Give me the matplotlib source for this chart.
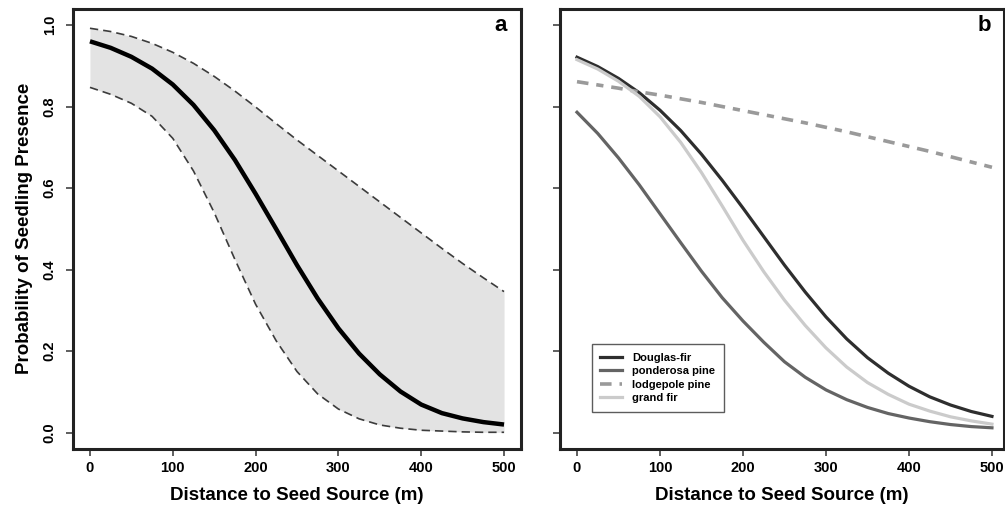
import matplotlib.pyplot as plt
import numpy as np

# distance to seed source (m)
dist = [0, 25, 50, 75, 100, 125, 150, 175, 200, 225, 250,
        275, 300, 325, 350, 375, 400, 425, 450, 475, 500]

# panel a: fitted probability with confidence band
mean_a = [0.960, 0.944, 0.922, 0.893, 0.854, 0.804, 0.742, 0.669, 0.586, 0.499, 0.411,
          0.329, 0.256, 0.194, 0.143, 0.101, 0.069, 0.048, 0.035, 0.026, 0.020]
upper_a = [0.992, 0.984, 0.972, 0.955, 0.933, 0.906, 0.874, 0.838, 0.799, 0.758, 0.718,
           0.680, 0.642, 0.604, 0.566, 0.528, 0.490, 0.452, 0.415, 0.380, 0.346]
lower_a = [0.847, 0.830, 0.808, 0.776, 0.722, 0.642, 0.540, 0.425, 0.315, 0.225, 0.150,
           0.095, 0.058, 0.034, 0.019, 0.011, 0.006, 0.004, 0.002, 0.001, 0.001]

# panel b: species curves
douglas = [0.921, 0.898, 0.869, 0.834, 0.791, 0.741, 0.683, 0.619, 0.551, 0.481, 0.411,
           0.345, 0.284, 0.230, 0.184, 0.146, 0.114, 0.088, 0.068, 0.052, 0.040]
ponderosa = [0.786, 0.734, 0.674, 0.608, 0.537, 0.466, 0.396, 0.331, 0.274, 0.222, 0.174,
             0.136, 0.105, 0.081, 0.062, 0.047, 0.036, 0.027, 0.020, 0.015, 0.012]
lodgepole = [0.861, 0.853, 0.845, 0.836, 0.828, 0.819, 0.810, 0.800, 0.790, 0.780, 0.770,
             0.760, 0.749, 0.738, 0.726, 0.714, 0.702, 0.690, 0.677, 0.664, 0.651]
grand = [0.915, 0.892, 0.862, 0.825, 0.775, 0.712, 0.638, 0.556, 0.472, 0.395, 0.325,
         0.263, 0.208, 0.161, 0.123, 0.094, 0.070, 0.053, 0.039, 0.029, 0.021]

xticks = [0, 100, 200, 300, 400, 500]
yticks = [0.0, 0.2, 0.4, 0.6, 0.8, 1.0]

plt.rcParams['font.family'] = ['Liberation Sans', 'DejaVu Sans']
plt.rcParams['font.weight'] = 'bold'

W, H = 1005, 507
fig = plt.figure(figsize=(W / 100, H / 100), dpi=100)
ax1 = fig.add_axes([73.4 / W, 1 - 449 / H, 447.2 / W, 440.3 / H])
ax2 = fig.add_axes([560.4 / W, 1 - 449 / H, 443.6 / W, 440.3 / H])

# panel a
ax1.fill_between(dist, lower_a, upper_a, color='#e3e3e3', lw=0)
ax1.plot(dist, upper_a, color='#3c3c3c', lw=1.2, dashes=(5, 3))
ax1.plot(dist, lower_a, color='#3c3c3c', lw=1.2, dashes=(5, 3))
ax1.plot(dist, mean_a, color='black', lw=3.2, solid_capstyle='butt')
ax1.set_xlim(-20, 520)

# panel b
ax2.plot(dist, douglas, color='#2e2e2e', lw=2.3, label='Douglas-fir')
ax2.plot(dist, ponderosa, color='#646464', lw=2.3, label='ponderosa pine')
ax2.plot(dist, lodgepole, color='#9a9a9a', lw=2.6, dashes=(3.2, 2.2, 2.0, 2.2),
         label='lodgepole pine')
ax2.plot(dist, grand, color='#cbcbcb', lw=2.3, label='grand fir')
ax2.set_xlim(-20, 514.5)

leg = ax2.legend(loc='lower left', bbox_to_anchor=(0.0706, 0.0847), borderaxespad=0,
                 prop={'weight': 'bold', 'size': 8}, frameon=True, fancybox=False,
                 handlelength=2.0, handletextpad=0.9, labelspacing=0.32, borderpad=0.75)
leg.get_frame().set_edgecolor('#333333')
leg.get_frame().set_linewidth(1.0)

for ax, letter in [(ax1, 'a'), (ax2, 'b')]:
    ax.set_ylim(-0.04, 1.04)
    ax.set_xticks(xticks)
    ax.set_yticks(yticks)
    for s in ax.spines.values():
        s.set_linewidth(2.2)
        s.set_color('#222222')
    ax.tick_params(axis='both', direction='out', length=5, width=1.1, color='#333333',
                   labelsize=10.5)
    ax.tick_params(axis='x', pad=4)
    ax.set_xticklabels([str(t) for t in xticks], fontweight='bold')
    ax.set_xlabel('Distance to Seed Source (m)', fontsize=13.5, fontweight='bold', labelpad=8)
    ax.text(0.97, 0.985, letter, transform=ax.transAxes, ha='right', va='top',
            fontsize=16, fontweight='bold')

ax1.set_yticklabels(['%.1f' % t for t in yticks], fontweight='bold', rotation=90, va='center')
ax1.tick_params(axis='y', pad=7)
ax1.set_ylabel('Probability of Seedling Presence', fontsize=13.5, fontweight='bold', labelpad=7)
ax2.set_yticklabels([])

fig.savefig('out.png', dpi=100)
